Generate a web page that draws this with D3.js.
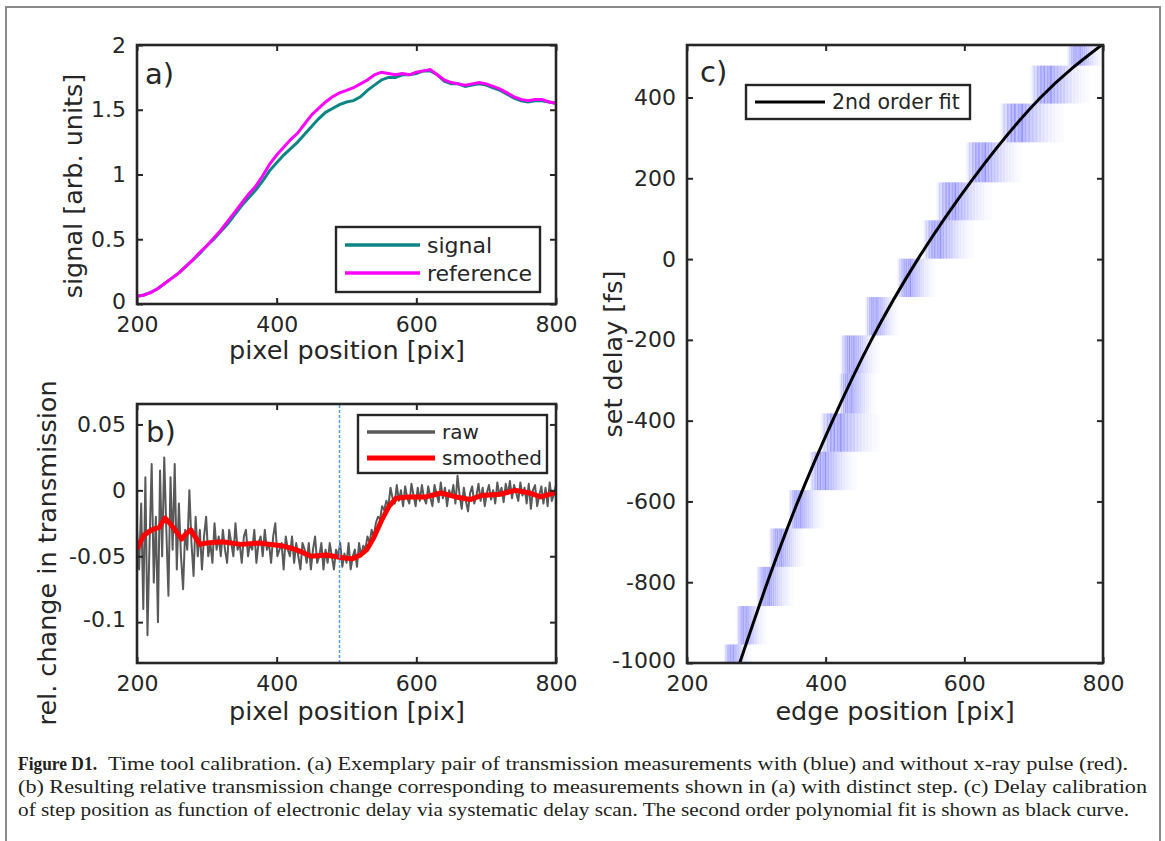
<!DOCTYPE html>
<html>
<head>
<meta charset="utf-8">
<script src="https://cdn.jsdelivr.net/npm/d3@7"></script>
<style>
  body { margin: 0; background: #fff; }
  svg { display: block; }
  text { font-family: 'DejaVu Sans', sans-serif; fill: #262626; }
  .caption { font-family: 'Liberation Serif', serif; fill: #231f20; font-size: 19px; }
</style>
</head>
<body>
<script>
// ---- panel a: signal / reference, one value every 10 pix from 200 to 800
const pixA = d3.range(200, 801, 10)
const referenceY = [0.06, 0.07, 0.09, 0.12, 0.16, 0.20, 0.24, 0.29, 0.34, 0.40,
    0.45, 0.51, 0.57, 0.64, 0.71, 0.78, 0.85, 0.91, 0.99, 1.08,
    1.15, 1.21, 1.27, 1.32, 1.39, 1.46, 1.51, 1.56, 1.60, 1.63,
    1.65, 1.67, 1.70, 1.73, 1.77, 1.79, 1.78, 1.77, 1.78, 1.77,
    1.79, 1.80, 1.81, 1.77, 1.73, 1.71, 1.70, 1.69, 1.70, 1.71,
    1.70, 1.68, 1.66, 1.63, 1.60, 1.58, 1.57, 1.58, 1.58, 1.56, 1.55]
const signalY = [0.06, 0.07, 0.09, 0.12, 0.16, 0.20, 0.24, 0.29, 0.34, 0.39,
    0.45, 0.50, 0.56, 0.62, 0.69, 0.76, 0.82, 0.88, 0.95, 1.03,
    1.09, 1.15, 1.20, 1.25, 1.31, 1.37, 1.43, 1.48, 1.51, 1.54,
    1.56, 1.57, 1.60, 1.65, 1.69, 1.73, 1.75, 1.75, 1.77, 1.77,
    1.78, 1.80, 1.80, 1.77, 1.72, 1.70, 1.70, 1.68, 1.69, 1.70,
    1.69, 1.67, 1.65, 1.62, 1.59, 1.57, 1.56, 1.57, 1.57, 1.56, 1.55]

// ---- panel b: raw every 3 pix, smoothed at read points
const pixB = d3.range(200, 801, 3)
const rawY = [
    -0.03, -0.06, -0.01, -0.09, 0.01, -0.11, -0.04, 0.02, -0.07, -0.02,
    -0.10, 0.015, -0.05, 0.025, -0.03, -0.08, 0.01, -0.045, 0.02, -0.06,
    -0.01, -0.05, -0.075, -0.03, -0.045, 0.0, -0.04, -0.065, -0.02, -0.05,
    -0.03, -0.06, -0.035, -0.02, -0.05, -0.04, -0.055, -0.025, -0.045, -0.035,
    -0.05, -0.03, -0.045, -0.055, -0.03, -0.04, -0.05, -0.025, -0.045, -0.04,
    -0.055, -0.035, -0.03, -0.05, -0.04, -0.045, -0.03, -0.055, -0.04, -0.035,
    -0.05, -0.03, -0.045, -0.04, -0.055, -0.035, -0.025, -0.05, -0.045, -0.04,
    -0.06, -0.035, -0.045, -0.05, -0.035, -0.055, -0.04, -0.05, -0.06, -0.04,
    -0.045, -0.055, -0.04, -0.06, -0.045, -0.035, -0.055, -0.05, -0.04, -0.06,
    -0.045, -0.055, -0.04, -0.05, -0.06, -0.045, -0.05, -0.04, -0.058, -0.048,
    -0.055, -0.04, -0.06, -0.05, -0.045, -0.058, -0.04, -0.05, -0.042, -0.045,
    -0.035, -0.04, -0.03, -0.035, -0.025, -0.02, -0.022, -0.012, -0.015, -0.008,
    -0.012, 0.002, -0.006, -0.01, 0.004, -0.008, 0.0, -0.012, 0.003, -0.006,
    -0.01, 0.005, -0.004, -0.012, 0.002, -0.008, 0.004, -0.006, -0.01, 0.003,
    -0.005, -0.012, 0.004, -0.003, -0.009, 0.006, -0.006, 0.002, -0.012, 0.0,
    -0.005, 0.004, -0.01, 0.011, -0.004, -0.014, 0.002, -0.008, -0.016, -0.002,
    0.003, -0.01, -0.004, 0.005, -0.008, 0.002, -0.012, -0.002, 0.004, -0.007,
    0.0, -0.01, 0.006, -0.004, 0.002, -0.009, 0.005, -0.003, 0.007, -0.006,
    0.004, -0.002, -0.008, 0.006, -0.004, 0.002, -0.01, 0.005, -0.014, 0.0,
    0.004, -0.012, -0.004, 0.003, -0.01, 0.002, -0.012, 0.006, -0.008, -0.003,
    0.004]
const smoothX = [200, 204, 210, 221, 232, 240, 247, 253, 264, 270,
    277, 290, 300, 322, 349, 375, 407, 428, 449, 471,
    492, 508, 520, 529, 539, 550, 561, 571, 587, 614,
    635, 657, 677, 693, 720, 741, 762, 778, 797, 800]
const smoothY = [-0.045, -0.040, -0.034, -0.030, -0.028, -0.021, -0.025, -0.029, -0.037, -0.033,
    -0.030, -0.041, -0.040, -0.039, -0.041, -0.040, -0.042, -0.045, -0.050, -0.049,
    -0.051, -0.052, -0.049, -0.045, -0.036, -0.023, -0.012, -0.006, -0.005, -0.005,
    -0.002, -0.005, -0.007, -0.004, -0.003, 0.000, -0.002, -0.005, -0.002, -0.002]
const stepPix = 490

// ---- panel c: delay scan histogram rows + 2nd order fit
const rowEdges = [-1049, -954, -859, -762, -667, -572, -477, -382, -283, -189, -94, 1, 96, 190, 289, 385, 479, 575]
const rowLo = [253, 271, 300, 318, 346, 376, 392, 419, 421, 457, 503, 540, 559, 602, 651, 695, 748]
const rowHi = [294, 315, 354, 370, 398, 445, 478, 473, 478, 506, 559, 614, 640, 683, 744, 781, 803]
const stripeLevels = [0.06, 0.15, 0.35, 0.25, 0.55, 0.40, 0.70, 0.50, 0.75, 0.45, 0.65, 0.55,
    0.80, 0.50, 0.60, 0.40, 0.55, 0.35, 0.45, 0.30, 0.40, 0.22, 0.30, 0.18,
    0.25, 0.12, 0.18, 0.10, 0.14, 0.07, 0.10, 0.05, 0.06, 0.03, 0.04, 0.02]
const fitX = [276, 316, 360, 410, 466, 533, 613, 710, 798]
const fitD = [-1000, -800, -600, -400, -200, 0, 200, 400, 530]

const xTicks = [200, 400, 600, 800]
const aTicks = [0, 0.5, 1, 1.5, 2]
const bTicks = [-0.1, -0.05, 0, 0.05]
const cTicks = [-1000, -800, -600, -400, -200, 0, 200, 400]

const captionLines = [
    'Time tool calibration. (a) Exemplary pair of transmission measurements with (blue) and without x-ray pulse (red).',
    '(b) Resulting relative transmission change corresponding to measurements shown in (a) with distinct step. (c) Delay calibration',
    'of step position as function of electronic delay via systematic delay scan. The second order polynomial fit is shown as black curve.'
]

const svg = d3.select('body').append('svg')
    .attr('width', 1165)
    .attr('height', 841)

svg.append('rect')
    .attr('x', 6).attr('y', 7)
    .attr('width', 1154).attr('height', 900)
    .attr('fill', 'none')
    .attr('stroke', '#8a8a8a')
    .attr('stroke-width', 2)

const INK = '#262626'

function clip(id, x, y) {
    svg.append('clipPath').attr('id', id)
        .append('rect')
        .attr('x', x.range()[0]).attr('y', y.range()[1])
        .attr('width', x.range()[1] - x.range()[0])
        .attr('height', y.range()[0] - y.range()[1])
    return svg.append('g').attr('clip-path', `url(#${id})`)
}

function axes(x, y, yTicks, fmt) {
    const [x0, x1] = x.range()
    const [y0, y1] = y.range()
    const style = g => g.attr('font-size', 22).attr('font-family', 'DejaVu Sans')
        .attr('color', INK)
        .call(g => g.select('.domain').remove())
        .call(g => g.selectAll('.tick line').attr('stroke-width', 2))
    svg.append('g').attr('transform', `translate(0,${y0})`)
        .call(d3.axisBottom(x).tickValues(xTicks).tickSize(-6).tickPadding(12).tickFormat(d => d))
        .call(style)
    svg.append('g').attr('transform', `translate(0,${y1})`)
        .call(d3.axisTop(x).tickValues(xTicks).tickSize(-6).tickFormat(''))
        .call(style)
    svg.append('g').attr('transform', `translate(${x0},0)`)
        .call(d3.axisLeft(y).tickValues(yTicks).tickSize(-6).tickPadding(11).tickFormat(fmt))
        .call(style)
        // lowest y label sits right on top of the first x label: lift it a touch
        .call(g => g.selectAll('.tick text').filter(d => d === yTicks[0]).attr('dy', '0.2em'))
    svg.append('g').attr('transform', `translate(${x1},0)`)
        .call(d3.axisRight(y).tickValues(yTicks).tickSize(-6).tickFormat(''))
        .call(style)
    svg.append('rect')
        .attr('x', x0).attr('y', y1)
        .attr('width', x1 - x0).attr('height', y0 - y1)
        .attr('fill', 'none')
        .attr('stroke', INK)
        .attr('stroke-width', 2.6)
}

function legend(x, y, w, h, size, items) {
    const g = svg.append('g')
    g.append('rect')
        .attr('x', x).attr('y', y).attr('width', w).attr('height', h)
        .attr('fill', '#fff').attr('stroke', INK).attr('stroke-width', 2.4)
    items.forEach(it => {
        g.append('line')
            .attr('x1', it.x1).attr('x2', it.x2).attr('y1', it.y).attr('y2', it.y)
            .attr('stroke', it.color).attr('stroke-width', it.width)
        g.append('text')
            .attr('x', it.x2 + 7).attr('y', it.y + size * 0.36)
            .attr('font-size', size)
            .text(it.label)
    })
}

function label(text, x, y, size, rotate) {
    svg.append('text')
        .attr('transform', `translate(${x},${y})` + (rotate ? ' rotate(-90)' : ''))
        .attr('text-anchor', rotate !== undefined ? 'middle' : 'start')
        .attr('font-size', size)
        .text(text)
}

// ---------------- panel a
const ax = d3.scaleLinear().domain([200, 800]).range([137, 556])
const ay = d3.scaleLinear().domain([0, 2]).range([304, 45])
const lineA = d3.line().x(d => ax(d[0])).y(d => ay(d[1]))
const plotA = clip('clipA', ax, ay)

plotA.append('path')
    .attr('d', lineA(pixA.map((p, i) => [p, signalY[i]])))
    .attr('fill', 'none').attr('stroke', '#0c8585').attr('stroke-width', 3)
plotA.append('path')
    .attr('d', lineA(pixA.map((p, i) => [p, referenceY[i]])))
    .attr('fill', 'none').attr('stroke', '#ff00ff').attr('stroke-width', 3)

axes(ax, ay, aTicks, d => d)
legend(336, 227, 204, 65, 22, [
    { x1: 345, x2: 420, y: 245, color: '#0c8585', width: 3.5, label: 'signal' },
    { x1: 345, x2: 420, y: 273, color: '#ff00ff', width: 3.5, label: 'reference' }
])
label('a)', 145, 84, 29)
label('pixel position [pix]', 347, 359, 25.5, false)
label('signal [arb. units]', 82, 186, 25.5, true)

// ---------------- panel b
const bx = d3.scaleLinear().domain([200, 800]).range([137, 556])
const by = d3.scaleLinear().domain([-0.131, 0.0655]).range([663, 404])
const lineB = d3.line().x(d => bx(d[0])).y(d => by(d[1]))
const plotB = clip('clipB', bx, by)

plotB.append('path')
    .attr('d', lineB(pixB.map((p, i) => [p, rawY[i]])))
    .attr('fill', 'none').attr('stroke', '#595959').attr('stroke-width', 2)
    .attr('stroke-linejoin', 'round')
plotB.append('path')
    .attr('d', lineB(smoothX.map((p, i) => [p, smoothY[i]])))
    .attr('fill', 'none').attr('stroke', '#ff0000').attr('stroke-width', 5)
    .attr('stroke-linejoin', 'round')
plotB.append('line')
    .attr('x1', bx(stepPix)).attr('x2', bx(stepPix))
    .attr('y1', by.range()[0]).attr('y2', by.range()[1])
    .attr('stroke', '#4f9ef0').attr('stroke-width', 1.5)
    .attr('stroke-dasharray', '3 2')

axes(bx, by, bTicks, d => d === 0 ? '0' : String(d))
legend(358, 415, 189, 58, 20, [
    { x1: 367, x2: 435, y: 432, color: '#595959', width: 3.5, label: 'raw' },
    { x1: 367, x2: 435, y: 458, color: '#ff0000', width: 5, label: 'smoothed' }
])
label('b)', 146, 442, 29)
label('pixel position [pix]', 347, 720, 25.5, false)
label('rel. change in transmission', 56, 553, 25.5, true)

// ---------------- panel c
const cx = d3.scaleLinear().domain([200, 800]).range([687, 1103])
const cy = d3.scaleLinear().domain([-1000, 530]).range([663, 45])
const plotC = clip('clipC', cx, cy)

rowLo.forEach((lo, r) => {
    const hi = rowHi[r]
    const n = stripeLevels.length
    plotC.append('g').selectAll('rect')
        .data(stripeLevels)
        .enter()
        .append('rect')
        .attr('x', (d, k) => cx(lo + (hi - lo) * k / n))
        .attr('width', (d, k) => cx(lo + (hi - lo) * (k + 1) / n) - cx(lo + (hi - lo) * k / n))
        .attr('y', cy(rowEdges[r + 1]))
        .attr('height', cy(rowEdges[r]) - cy(rowEdges[r + 1]))
        .attr('fill', '#1a1aff')
        .attr('opacity', d => d * 0.58)
})

plotC.append('path')
    .attr('d', d3.line().curve(d3.curveNatural)
        .x(d => cx(d[0])).y(d => cy(d[1]))(fitX.map((p, i) => [p, fitD[i]])))
    .attr('fill', 'none').attr('stroke', '#000').attr('stroke-width', 3)

axes(cx, cy, cTicks, d => d)
legend(746, 85, 224, 34, 20.5, [
    { x1: 755, x2: 825, y: 102, color: '#000', width: 3, label: '2nd order fit' }
])
label('c)', 700, 82, 29)
label('edge position [pix]', 895, 720, 25.5, false)
label('set delay [fs]', 622, 354, 25.5, true)

// ---------------- caption
const cap = svg.append('g')
cap.append('text').attr('class', 'caption')
    .attr('x', 18).attr('y', 770)
    .attr('font-weight', 'bold')
    .attr('textLength', 79).attr('lengthAdjust', 'spacingAndGlyphs')
    .text('Figure D1.')
const capStart = [108, 18, 18]
const capEnd = [1128, 1147, 1129]
captionLines.forEach((t, i) => {
    cap.append('text').attr('class', 'caption')
        .attr('x', capStart[i]).attr('y', 770 + i * 23)
        .attr('textLength', capEnd[i] - capStart[i]).attr('lengthAdjust', 'spacingAndGlyphs')
        .text(t)
})
</script>
</body>
</html>
